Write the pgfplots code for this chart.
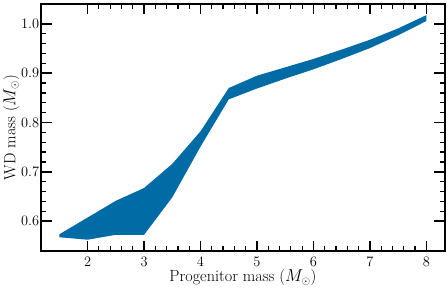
\documentclass[border=0pt]{standalone}
\usepackage{pgfplots}
\pgfplotsset{compat=1.18}
\definecolor{bandblue}{HTML}{006BA4}
\begin{document}
\begin{tikzpicture}
\begin{axis}[
  scale only axis,
  width=403.7pt, height=247.3pt,
  xmin=1.175, xmax=8.325,
  ymin=0.5385, ymax=1.0406,
  xtick={2,3,4,5,6,7,8},
  ytick={0.6,0.7,0.8,0.9,1.0},
  minor x tick num=4,
  minor y tick num=4,
  tick pos=both,
  tick align=inside,
  axis line style={line width=1.8pt},
  major tick length=10.5pt,
  minor tick length=5pt,
  every major tick/.style={line width=1.6pt, black},
  every minor tick/.style={line width=1.2pt, black},
  yticklabel style={/pgf/number format/fixed, /pgf/number format/fixed zerofill, /pgf/number format/precision=1, inner sep=0pt, xshift=-1.7pt},
  ticklabel style={font=\fontsize{13.5}{15}\selectfont},
  xticklabel style={inner sep=0pt, yshift=-5.4pt},
  xlabel={Progenitor mass ($M_\odot$)},
  ylabel={WD mass ($M_\odot$)},
  label style={font=\fontsize{16.2}{19}\selectfont},
  xlabel style={at={(axis description cs:0.5,-0.1229)}, anchor=base, inner sep=0pt},
  ylabel style={at={(axis description cs:-0.0941,0.5)}, anchor=north, inner sep=0pt},
]
\addplot[fill=bandblue, draw=none] coordinates {
  (1.5,0.573) (2,0.607) (2.5,0.641) (3,0.667) (3.5,0.716) (4,0.782)
  (4.5,0.870) (5,0.895) (5.5,0.912) (6,0.929) (6.5,0.948) (7,0.968)
  (7.5,0.991) (8,1.018)
  (8,1.006) (7.5,0.977) (7,0.951) (6.5,0.929) (6,0.908) (5.5,0.889)
  (5,0.869) (4.5,0.847) (4,0.751) (3.5,0.648) (3,0.572) (2.5,0.572)
  (2,0.562) (1.5,0.567)
} -- cycle;
\end{axis}
\path (current axis.south west) ++(-41pt,-36.7pt) coordinate (bbA);
\path (current axis.north east) ++(3.3pt,4pt) coordinate (bbB);
\path (bbA) rectangle (bbB);
\end{tikzpicture}
\end{document}
